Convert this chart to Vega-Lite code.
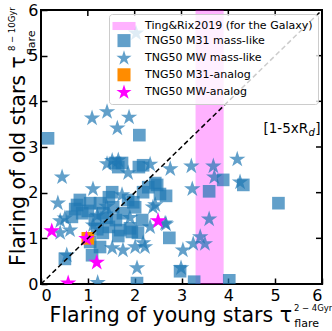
{
  "$schema": "https://vega.github.io/schema/vega-lite/v6.json",
  "width": 281,
  "height": 274,
  "autosize": {"type": "none"},
  "padding": {"left": 41, "top": 10, "right": 10, "bottom": 47},
  "config": {
    "view": {"stroke": "black", "strokeWidth": 2},
    "font": "DejaVu Sans",
    "axis": {
      "grid": false,
      "domain": false,
      "tickColor": "black",
      "tickWidth": 1.5,
      "tickSize": -6,
      "labelPadding": 9,
      "labelFont": "DejaVu Sans",
      "labelFontSize": 16,
      "labelColor": "black",
      "title": null,
      "values": [0, 1, 2, 3, 4, 5, 6]
    },
    "legend": {
      "orient": "top-right",
      "offset": 4,
      "title": null,
      "labelFont": "DejaVu Sans",
      "labelFontSize": 11,
      "labelColor": "black",
      "labelLimit": 300,
      "symbolSize": 170,
      "symbolStrokeWidth": 0,
      "fillColor": "rgba(255,255,255,0.8)",
      "strokeColor": "#cccccc",
      "padding": 5,
      "cornerRadius": 3,
      "rowPadding": 2.6,
      "symbolOffset": 3,
      "labelOffset": 14
    }
  },
  "datasets": {
    "pts": [
      {"x": 0.15, "y": 3.19, "g": "TNG50 M31 mass-like"},
      {"x": 2.10, "y": 3.26, "g": "TNG50 M31 mass-like"},
      {"x": 2.18, "y": 2.60, "g": "TNG50 M31 mass-like"},
      {"x": 1.58, "y": 2.65, "g": "TNG50 M31 mass-like"},
      {"x": 1.73, "y": 2.65, "g": "TNG50 M31 mass-like"},
      {"x": 1.65, "y": 2.56, "g": "TNG50 M31 mass-like"},
      {"x": 2.09, "y": 2.56, "g": "TNG50 M31 mass-like"},
      {"x": 2.67, "y": 1.93, "g": "TNG50 M31 mass-like"},
      {"x": 2.74, "y": 1.01, "g": "TNG50 M31 mass-like"},
      {"x": 3.59, "y": 2.03, "g": "TNG50 M31 mass-like"},
      {"x": 3.89, "y": 2.28, "g": "TNG50 M31 mass-like"},
      {"x": 4.32, "y": 2.17, "g": "TNG50 M31 mass-like"},
      {"x": 5.07, "y": 1.77, "g": "TNG50 M31 mass-like"},
      {"x": 2.97, "y": 0.28, "g": "TNG50 M31 mass-like"},
      {"x": 3.27, "y": 0.05, "g": "TNG50 M31 mass-like"},
      {"x": 4.02, "y": 0.08, "g": "TNG50 M31 mass-like"},
      {"x": 2.44, "y": 2.21, "g": "TNG50 M31 mass-like"},
      {"x": 2.29, "y": 2.12, "g": "TNG50 M31 mass-like"},
      {"x": 2.48, "y": 2.17, "g": "TNG50 M31 mass-like"},
      {"x": 2.54, "y": 1.97, "g": "TNG50 M31 mass-like"},
      {"x": 2.18, "y": 2.01, "g": "TNG50 M31 mass-like"},
      {"x": 1.97, "y": 1.79, "g": "TNG50 M31 mass-like"},
      {"x": 1.86, "y": 1.84, "g": "TNG50 M31 mass-like"},
      {"x": 2.01, "y": 1.68, "g": "TNG50 M31 mass-like"},
      {"x": 2.16, "y": 1.40, "g": "TNG50 M31 mass-like"},
      {"x": 1.69, "y": 1.18, "g": "TNG50 M31 mass-like"},
      {"x": 1.94, "y": 1.14, "g": "TNG50 M31 mass-like"},
      {"x": 2.07, "y": 1.12, "g": "TNG50 M31 mass-like"},
      {"x": 1.52, "y": 2.01, "g": "TNG50 M31 mass-like"},
      {"x": 1.26, "y": 1.77, "g": "TNG50 M31 mass-like"},
      {"x": 1.05, "y": 1.77, "g": "TNG50 M31 mass-like"},
      {"x": 0.77, "y": 1.73, "g": "TNG50 M31 mass-like"},
      {"x": 0.66, "y": 1.47, "g": "TNG50 M31 mass-like"},
      {"x": 0.88, "y": 1.55, "g": "TNG50 M31 mass-like"},
      {"x": 1.32, "y": 1.55, "g": "TNG50 M31 mass-like"},
      {"x": 1.54, "y": 1.68, "g": "TNG50 M31 mass-like"},
      {"x": 0.83, "y": 1.84, "g": "TNG50 M31 mass-like"},
      {"x": 1.32, "y": 1.12, "g": "TNG50 M31 mass-like"},
      {"x": 1.45, "y": 1.25, "g": "TNG50 M31 mass-like"},
      {"x": 1.26, "y": 0.81, "g": "TNG50 M31 mass-like"},
      {"x": 1.09, "y": 0.63, "g": "TNG50 M31 mass-like"},
      {"x": 0.51, "y": 0.55, "g": "TNG50 M31 mass-like"},
      {"x": 1.05, "y": 0.92, "g": "TNG50 M31 mass-like"},
      {"x": 1.90, "y": 1.22, "g": "TNG50 M31 mass-like"},
      {"x": 2.05, "y": 0.02, "g": "TNG50 M31 mass-like"},
      {"x": 0.73, "y": 1.64, "g": "TNG50 M31 mass-like"},
      {"x": 1.40, "y": 1.45, "g": "TNG50 M31 mass-like"},
      {"x": 1.60, "y": 1.40, "g": "TNG50 M31 mass-like"},
      {"x": 1.75, "y": 1.55, "g": "TNG50 M31 mass-like"},
      {"x": 1.15, "y": 1.40, "g": "TNG50 M31 mass-like"},
      {"x": 1.00, "y": 1.60, "g": "TNG50 M31 mass-like"},
      {"x": 1.45, "y": 1.90, "g": "TNG50 M31 mass-like"},
      {"x": 1.65, "y": 1.05, "g": "TNG50 M31 mass-like"},
      {"x": 1.20, "y": 1.20, "g": "TNG50 M31 mass-like"},
      {"x": 2.03, "y": 5.49, "g": "TNG50 MW mass-like"},
      {"x": 1.09, "y": 3.63, "g": "TNG50 MW mass-like"},
      {"x": 1.41, "y": 3.77, "g": "TNG50 MW mass-like"},
      {"x": 1.63, "y": 3.41, "g": "TNG50 MW mass-like"},
      {"x": 1.88, "y": 3.65, "g": "TNG50 MW mass-like"},
      {"x": 1.41, "y": 2.63, "g": "TNG50 MW mass-like"},
      {"x": 1.52, "y": 2.70, "g": "TNG50 MW mass-like"},
      {"x": 1.65, "y": 2.71, "g": "TNG50 MW mass-like"},
      {"x": 2.33, "y": 2.62, "g": "TNG50 MW mass-like"},
      {"x": 1.86, "y": 2.43, "g": "TNG50 MW mass-like"},
      {"x": 0.45, "y": 2.34, "g": "TNG50 MW mass-like"},
      {"x": 1.11, "y": 2.08, "g": "TNG50 MW mass-like"},
      {"x": 0.36, "y": 1.77, "g": "TNG50 MW mass-like"},
      {"x": 2.76, "y": 2.52, "g": "TNG50 MW mass-like"},
      {"x": 3.21, "y": 2.58, "g": "TNG50 MW mass-like"},
      {"x": 3.68, "y": 2.58, "g": "TNG50 MW mass-like"},
      {"x": 3.70, "y": 2.34, "g": "TNG50 MW mass-like"},
      {"x": 4.19, "y": 2.73, "g": "TNG50 MW mass-like"},
      {"x": 4.25, "y": 2.23, "g": "TNG50 MW mass-like"},
      {"x": 3.23, "y": 2.08, "g": "TNG50 MW mass-like"},
      {"x": 3.59, "y": 1.42, "g": "TNG50 MW mass-like"},
      {"x": 2.67, "y": 1.31, "g": "TNG50 MW mass-like"},
      {"x": 3.03, "y": 0.74, "g": "TNG50 MW mass-like"},
      {"x": 3.25, "y": 0.88, "g": "TNG50 MW mass-like"},
      {"x": 3.40, "y": 1.03, "g": "TNG50 MW mass-like"},
      {"x": 3.50, "y": 0.88, "g": "TNG50 MW mass-like"},
      {"x": 2.99, "y": 0.35, "g": "TNG50 MW mass-like"},
      {"x": 2.44, "y": 1.73, "g": "TNG50 MW mass-like"},
      {"x": 2.33, "y": 1.25, "g": "TNG50 MW mass-like"},
      {"x": 2.01, "y": 0.81, "g": "TNG50 MW mass-like"},
      {"x": 2.22, "y": 0.81, "g": "TNG50 MW mass-like"},
      {"x": 2.05, "y": 0.35, "g": "TNG50 MW mass-like"},
      {"x": 0.41, "y": 1.12, "g": "TNG50 MW mass-like"},
      {"x": 0.41, "y": 1.38, "g": "TNG50 MW mass-like"},
      {"x": 0.51, "y": 1.44, "g": "TNG50 MW mass-like"},
      {"x": 0.62, "y": 1.18, "g": "TNG50 MW mass-like"},
      {"x": 1.11, "y": 1.29, "g": "TNG50 MW mass-like"},
      {"x": 1.75, "y": 0.74, "g": "TNG50 MW mass-like"},
      {"x": 1.52, "y": 0.79, "g": "TNG50 MW mass-like"},
      {"x": 2.18, "y": 0.90, "g": "TNG50 MW mass-like"},
      {"x": 0.55, "y": 0.63, "g": "TNG50 MW mass-like"},
      {"x": 1.21, "y": 0.03, "g": "TNG50 MW mass-like"},
      {"x": 1.73, "y": 1.95, "g": "TNG50 MW mass-like"},
      {"x": 2.39, "y": 1.68, "g": "TNG50 MW mass-like"},
      {"x": 2.65, "y": 1.33, "g": "TNG50 MW mass-like"},
      {"x": 1.40, "y": 1.70, "g": "TNG50 MW mass-like"},
      {"x": 1.20, "y": 1.50, "g": "TNG50 MW mass-like"},
      {"x": 1.90, "y": 1.45, "g": "TNG50 MW mass-like"},
      {"x": 1.00, "y": 1.00, "g": "TNG50 M31-analog"},
      {"x": 0.23, "y": 1.16, "g": "TNG50 MW-analog"},
      {"x": 0.97, "y": 0.99, "g": "TNG50 MW-analog"},
      {"x": 1.19, "y": 0.47, "g": "TNG50 MW-analog"},
      {"x": 0.58, "y": 0.02, "g": "TNG50 MW-analog"},
      {"x": 2.50, "y": 1.38, "g": "TNG50 MW-analog"}
    ],
    "band": [
      {"x1": 3.3, "x2": 3.9, "g": "Ting&Rix2019 (for the Galaxy)"}
    ],
    "diag": [
      {"x": 0, "y": 0},
      {"x": 6, "y": 6}
    ],
    "ticks": [
      {"v": 1}, {"v": 2}, {"v": 3}, {"v": 4}, {"v": 5}
    ]
  },
  "layer": [
    {
      "data": {"name": "band"},
      "mark": {"type": "rect", "clip": true},
      "encoding": {
        "x": {"field": "x1", "type": "quantitative", "scale": {"domain": [0, 6], "nice": false, "zero": false}, "axis": {"orient": "bottom"}},
        "x2": {"field": "x2"},
        "y": {"datum": 0, "type": "quantitative", "scale": {"domain": [0, 6], "nice": false, "zero": false}, "axis": {"orient": "left"}},
        "y2": {"datum": 6},
        "color": {
          "field": "g", "type": "nominal",
          "scale": {
            "domain": ["Ting&Rix2019 (for the Galaxy)", "TNG50 M31 mass-like", "TNG50 MW mass-like", "TNG50 M31-analog", "TNG50 MW-analog"],
            "range": ["rgba(255,0,255,0.3)", "rgba(31,119,180,0.7)", "rgba(31,119,180,0.7)", "#ff8c00", "#ff00ff"]
          }
        }
      }
    },
    {
      "data": {"name": "pts"},
      "transform": [{"filter": "datum.g === 'TNG50 M31 mass-like'"}],
      "mark": {"type": "point", "filled": true, "opacity": 1, "size": 160, "clip": true, "strokeWidth": 0},
      "encoding": {
        "x": {"field": "x", "type": "quantitative"},
        "y": {"field": "y", "type": "quantitative"},
        "color": {"field": "g", "type": "nominal"},
        "shape": {
          "field": "g", "type": "nominal",
          "scale": {
            "domain": ["Ting&Rix2019 (for the Galaxy)", "TNG50 M31 mass-like", "TNG50 MW mass-like", "TNG50 M31-analog", "TNG50 MW-analog"],
            "range": [
              "M-1.77,-0.62H1.77V0.62H-1.77Z",
              "square",
              "M0,-1.22L0.274,-0.377L1.16,-0.377L0.443,0.144L0.717,0.987L0,0.466L-0.717,0.987L-0.443,0.144L-1.16,-0.377L-0.274,-0.377Z",
              "square",
              "M0,-1.22L0.274,-0.377L1.16,-0.377L0.443,0.144L0.717,0.987L0,0.466L-0.717,0.987L-0.443,0.144L-1.16,-0.377L-0.274,-0.377Z"
            ]
          }
        }
      }
    },
    {
      "data": {"name": "pts"},
      "transform": [{"filter": "datum.g === 'TNG50 MW mass-like'"}],
      "mark": {"type": "point", "filled": true, "opacity": 1, "size": 200, "clip": true, "strokeWidth": 0},
      "encoding": {
        "x": {"field": "x", "type": "quantitative"},
        "y": {"field": "y", "type": "quantitative"},
        "color": {"field": "g", "type": "nominal"},
        "shape": {"field": "g", "type": "nominal"}
      }
    },
    {
      "data": {"name": "pts"},
      "transform": [{"filter": "datum.g === 'TNG50 M31-analog'"}],
      "mark": {"type": "point", "filled": true, "opacity": 1, "size": 160, "clip": true, "strokeWidth": 0},
      "encoding": {
        "x": {"field": "x", "type": "quantitative"},
        "y": {"field": "y", "type": "quantitative"},
        "color": {"field": "g", "type": "nominal"},
        "shape": {"field": "g", "type": "nominal"}
      }
    },
    {
      "data": {"name": "pts"},
      "transform": [{"filter": "datum.g === 'TNG50 MW-analog'"}],
      "mark": {"type": "point", "filled": true, "opacity": 1, "size": 200, "clip": true, "strokeWidth": 0},
      "encoding": {
        "x": {"field": "x", "type": "quantitative"},
        "y": {"field": "y", "type": "quantitative"},
        "color": {"field": "g", "type": "nominal"},
        "shape": {"field": "g", "type": "nominal"}
      }
    },
    {
      "data": {"name": "diag"},
      "mark": {"type": "line", "color": "black", "strokeWidth": 1.5, "strokeDash": [5, 3], "clip": true},
      "encoding": {
        "x": {"field": "x", "type": "quantitative"},
        "y": {"field": "y", "type": "quantitative"}
      }
    },
    {
      "data": {"name": "ticks"},
      "mark": {"type": "tick", "orient": "vertical", "color": "black", "size": 12, "thickness": 1.5, "clip": true, "opacity": 1},
      "encoding": {
        "x": {"field": "v", "type": "quantitative"},
        "y": {"datum": 6, "type": "quantitative"}
      }
    },
    {
      "data": {"name": "ticks"},
      "mark": {"type": "tick", "orient": "horizontal", "color": "black", "size": 12, "thickness": 1.5, "clip": true, "opacity": 1},
      "encoding": {
        "y": {"field": "v", "type": "quantitative"},
        "x": {"datum": 6, "type": "quantitative"}
      }
    },
    {
      "data": {"values": [{}]},
      "mark": {"type": "text", "align": "right", "baseline": "alphabetic", "fontSize": 20.5, "font": "DejaVu Sans", "color": "black"},
      "encoding": {
        "x": {"datum": 5.36, "type": "quantitative"},
        "y": {"datum": -0.83, "type": "quantitative"},
        "text": {"value": "Flaring of young stars τ"}
      }
    },
    {
      "data": {"values": [{}]},
      "mark": {"type": "text", "align": "left", "baseline": "alphabetic", "fontSize": 8.5, "font": "DejaVu Sans", "color": "black"},
      "encoding": {
        "x": {"datum": 5.4, "type": "quantitative"},
        "y": {"datum": -0.6, "type": "quantitative"},
        "text": {"value": "2 − 4Gyr"}
      }
    },
    {
      "data": {"values": [{}]},
      "mark": {"type": "text", "align": "left", "baseline": "alphabetic", "fontSize": 11, "font": "DejaVu Sans", "color": "black"},
      "encoding": {
        "x": {"datum": 5.41, "type": "quantitative"},
        "y": {"datum": -0.95, "type": "quantitative"},
        "text": {"value": "flare"}
      }
    },
    {
      "data": {"values": [{}]},
      "mark": {"type": "text", "align": "right", "baseline": "alphabetic", "angle": 270, "fontSize": 20.5, "font": "DejaVu Sans", "color": "black"},
      "encoding": {
        "x": {"datum": -0.34, "type": "quantitative"},
        "y": {"datum": 4.99, "type": "quantitative"},
        "text": {"value": "Flaring of old stars τ"}
      }
    },
    {
      "data": {"values": [{}]},
      "mark": {"type": "text", "align": "left", "baseline": "alphabetic", "angle": 270, "fontSize": 8.5, "font": "DejaVu Sans", "color": "black"},
      "encoding": {
        "x": {"datum": -0.56, "type": "quantitative"},
        "y": {"datum": 5.1, "type": "quantitative"},
        "text": {"value": "8 − 10Gyr"}
      }
    },
    {
      "data": {"values": [{}]},
      "mark": {"type": "text", "align": "left", "baseline": "alphabetic", "angle": 270, "fontSize": 11, "font": "DejaVu Sans", "color": "black"},
      "encoding": {
        "x": {"datum": -0.13, "type": "quantitative"},
        "y": {"datum": 5.01, "type": "quantitative"},
        "text": {"value": "flare"}
      }
    },
    {
      "data": {"values": [{}]},
      "mark": {"type": "text", "align": "right", "baseline": "alphabetic", "fontSize": 13.5, "font": "DejaVu Sans", "color": "black"},
      "encoding": {
        "x": {"datum": 5.705, "type": "quantitative"},
        "y": {"datum": 3.3, "type": "quantitative"},
        "text": {"value": "[1-5xR"}
      }
    },
    {
      "data": {"values": [{}]},
      "mark": {"type": "text", "align": "left", "baseline": "alphabetic", "fontSize": 10, "fontStyle": "italic", "font": "DejaVu Sans", "color": "black", "dy": 3},
      "encoding": {
        "x": {"datum": 5.71, "type": "quantitative"},
        "y": {"datum": 3.3, "type": "quantitative"},
        "text": {"value": "d"}
      }
    },
    {
      "data": {"values": [{}]},
      "mark": {"type": "text", "align": "left", "baseline": "alphabetic", "fontSize": 13.5, "font": "DejaVu Sans", "color": "black"},
      "encoding": {
        "x": {"datum": 5.855, "type": "quantitative"},
        "y": {"datum": 3.3, "type": "quantitative"},
        "text": {"value": "]"}
      }
    }
  ]
}
